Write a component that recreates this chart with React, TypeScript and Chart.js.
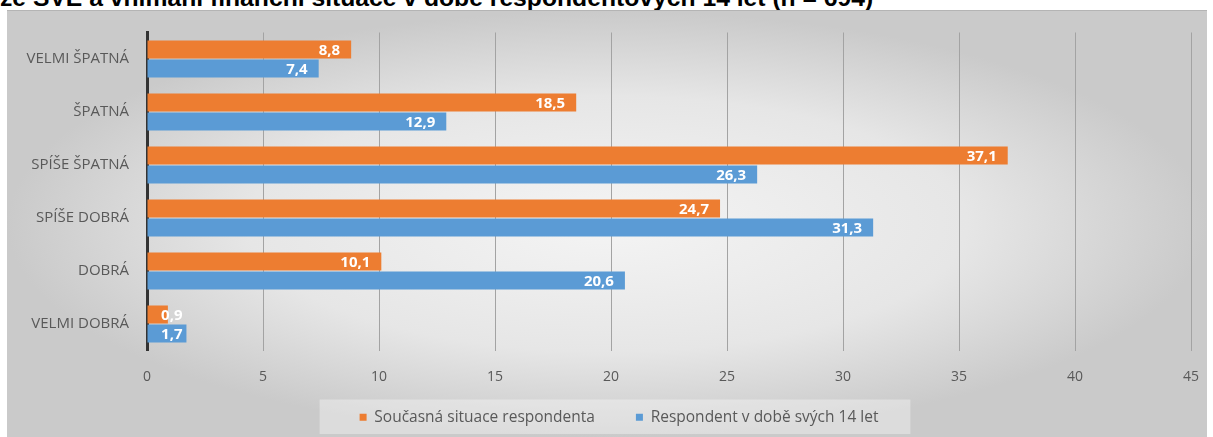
import React, { useEffect, useRef } from 'react';
import { Chart, registerables } from 'chart.js';

Chart.register(...registerables);

const titleText = 'ze SVE a vnímání finanční situace v době respondentových 14 let (n = 694)';
const categories = ['VELMI ŠPATNÁ', 'ŠPATNÁ', 'SPÍŠE ŠPATNÁ', 'SPÍŠE DOBRÁ', 'DOBRÁ', 'VELMI DOBRÁ'];
const seriesNames = ['Současná situace respondenta', 'Respondent v době svých 14 let'];
const currentValues = [8.8, 18.5, 37.1, 24.7, 10.1, 0.9];
const age14Values = [7.4, 12.9, 26.3, 31.3, 20.6, 1.7];
const xMin = 0;
const xMax = 45;
const xStep = 5;
const seriesColors = ['#ED7D31', '#5B9BD5'];

const LEGEND_SHIFT = 20;

const valueLabels = {
  id: 'valueLabels',
  afterDatasetsDraw(chart: any) {
    const ctx = chart.ctx;
    ctx.save();
    ctx.font = 'bold 15px "Open Sans"';
    ctx.fillStyle = '#ffffff';
    ctx.textAlign = 'right';
    ctx.textBaseline = 'middle';
    chart.data.datasets.forEach((ds: any, i: number) => {
      chart.getDatasetMeta(i).data.forEach((bar: any, j: number) => {
        const v = ds.data[j] as number;
        const text = v.toFixed(1).replace('.', ',');
        const x = Math.max(bar.x - 11, bar.base + 35);
        ctx.fillText(text, x, bar.y + 1);
      });
    });
    ctx.restore();
  },
};

const legendShift = {
  id: 'legendShift',
  afterUpdate(chart: any) {
    const lg = chart.legend;
    if (!lg) return;
    lg.left += LEGEND_SHIFT;
    lg.right += LEGEND_SHIFT;
    if (lg.legendHitBoxes) lg.legendHitBoxes.forEach((h: any) => (h.left += LEGEND_SHIFT));
  },
};

const legendBg = {
  id: 'legendBg',
  beforeDraw(chart: any) {
    const lg = chart.legend;
    if (!lg || !lg.legendHitBoxes || !lg.legendHitBoxes.length) return;
    const hb = lg.legendHitBoxes;
    const left = Math.min(...hb.map((h: any) => h.left)) - 40;
    const right = Math.max(...hb.map((h: any) => h.left + h.width)) + 32;
    const top = hb[0].top - 10;
    const bottom = hb[0].top + hb[0].height + 9;
    const ctx = chart.ctx;
    ctx.save();
    ctx.fillStyle = 'rgba(255,255,255,0.35)';
    ctx.fillRect(left, top, right - left, bottom - top);
    ctx.restore();
  },
};

export default function App() {
  const ref = useRef<HTMLCanvasElement | null>(null);

  useEffect(() => {
    if (!ref.current) return;
    const chart = new Chart(ref.current, {
      type: 'bar',
      data: {
        labels: categories,
        datasets: [
          {
            label: seriesNames[0],
            data: currentValues,
            backgroundColor: seriesColors[0],
            borderWidth: 0,
            categoryPercentage: 0.714,
            barPercentage: 0.947,
          },
          {
            label: seriesNames[1],
            data: age14Values,
            backgroundColor: seriesColors[1],
            borderWidth: 0,
            categoryPercentage: 0.714,
            barPercentage: 0.947,
          },
        ],
      },
      options: {
        indexAxis: 'y',
        animation: false,
        responsive: false,
        maintainAspectRatio: false,
        layout: { padding: { top: 22.5, right: 16, bottom: 2, left: 0 } },
        scales: {
          x: {
            min: xMin,
            max: xMax,
            ticks: {
              stepSize: xStep,
              color: '#595959',
              font: { family: '"Open Sans"', size: 14 },
              padding: 18,
            },
            grid: { color: '#a3a3a3', lineWidth: 1, drawTicks: false },
            border: { display: false },
            afterFit: (s: any) => {
              s.height = 49;
              s.paddingLeft = 0;
              s.paddingRight = 0;
            },
          },
          y: {
            ticks: {
              color: '#595959',
              font: { family: '"Open Sans"', size: 15 },
              padding: 18,
            },
            grid: { display: false, drawTicks: false },
            border: { display: true, color: '#333333', width: 3 },
            afterFit: (s: any) => {
              s.width = 140;
              s.paddingTop = 0;
              s.paddingBottom = 0;
            },
          },
        },
        plugins: {
          legend: {
            position: 'bottom',
            labels: {
              boxWidth: 7,
              boxHeight: 7,
              padding: 10,
              color: '#595959',
              font: { family: '"Open Sans"', size: 15.5 },
              generateLabels: (c: any) => {
                const items = (Chart.defaults.plugins.legend.labels as any).generateLabels(c);
                if (items.length) items[0].text = items[0].text + '\u2003\u2003';
                return items;
              },
            },
          },
          tooltip: { enabled: false },
          title: { display: false },
        },
      },
      plugins: [valueLabels, legendShift, legendBg],
    });
    return () => chart.destroy();
  }, []);

  return (
    <div
      style={{
        position: 'fixed',
        left: 0,
        top: 0,
        width: 1213,
        height: 437,
        overflow: 'hidden',
        background: '#ffffff',
      }}
    >
      <div
        style={{
          position: 'absolute',
          left: 0,
          top: -14,
          whiteSpace: 'nowrap',
          fontFamily: '"Liberation Sans", Arial, sans-serif',
          fontWeight: 'bold',
          fontSize: 24.7,
          lineHeight: '24.7px',
          color: '#000',
        }}
      >
        {titleText}
      </div>
      <div
        style={{
          position: 'absolute',
          left: 7,
          top: 10,
          width: 1200,
          height: 427,
          borderTop: '1px solid #b4b4b4',
          boxSizing: 'border-box',
          background:
            'radial-gradient(ellipse farthest-side at 50% 50%, #f4f4f4 0%, #e6e6e6 60%, #cacaca 100%)',
        }}
      />
      <canvas
        ref={ref}
        width={1200}
        height={427}
        style={{ position: 'absolute', left: 7, top: 10, width: 1200, height: 427 }}
      />
    </div>
  );
}
